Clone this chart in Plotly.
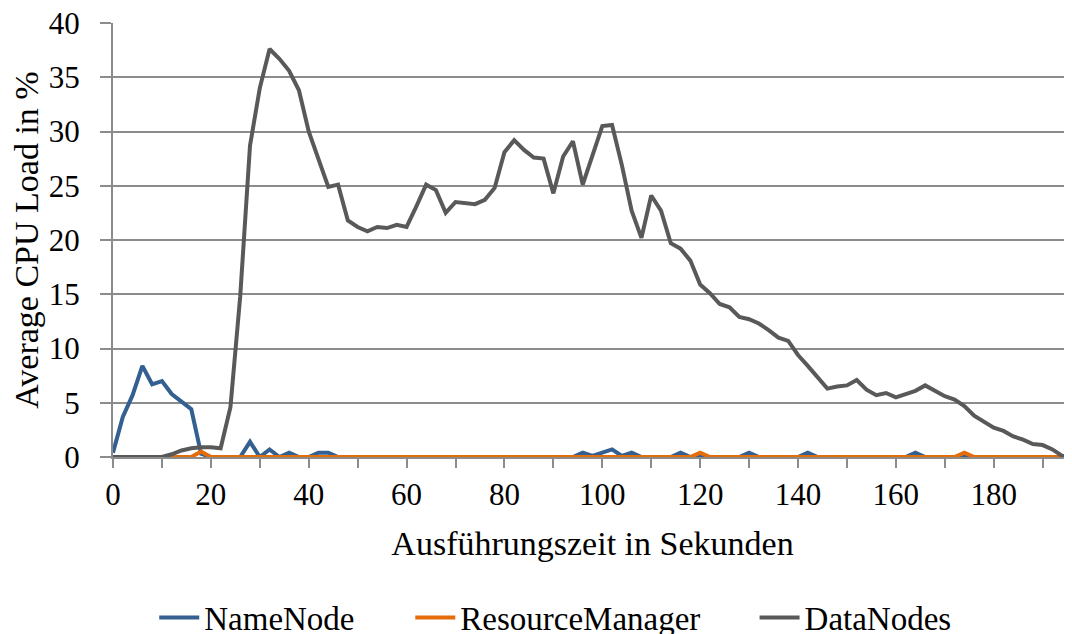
import plotly.graph_objects as go

seconds = list(range(0, 198, 2))

data_nodes = [
    0, 0, 0, 0, 0, 0, 0.25, 0.6, 0.8, 0.9,
    0.9, 0.8, 4.6, 14.8, 28.7, 34.0, 37.6, 36.7, 35.6, 33.8,
    30.0, 27.5, 24.9, 25.1, 21.8, 21.2, 20.8, 21.2, 21.1, 21.4,
    21.2, 23.1, 25.1, 24.6, 22.5, 23.5, 23.4, 23.3, 23.7, 24.8,
    28.1, 29.2, 28.3, 27.6, 27.5, 24.3, 27.7, 29.1, 25.1, 27.7,
    30.5, 30.6, 26.9, 22.7, 20.2, 24.1, 22.7, 19.7, 19.2, 18.1,
    15.9, 15.1, 14.1, 13.8, 12.9, 12.7, 12.3, 11.7, 11.0, 10.7,
    9.4, 8.4, 7.4, 6.3, 6.5, 6.6, 7.1, 6.2, 5.7, 5.9,
    5.5, 5.8, 6.1, 6.6, 6.1, 5.6, 5.3, 4.7, 3.8, 3.2,
    2.7, 2.4, 1.9, 1.6, 1.2, 1.1, 0.7, 0.1, 0.0,
]

name_node = [0.0] * len(seconds)
for sec, val in {0: 0.4, 2: 3.7, 4: 5.7, 6: 8.4, 8: 6.7, 10: 7.0, 12: 5.8, 14: 5.1,
                 16: 4.4, 18: 0.3, 28: 1.4, 32: 0.7, 36: 0.4, 42: 0.4, 44: 0.4,
                 96: 0.4, 98: 0.1, 100: 0.4, 102: 0.7, 104: 0.1, 106: 0.4,
                 116: 0.4, 130: 0.4, 142: 0.4, 164: 0.4}.items():
    name_node[sec // 2] = val

resource_manager = [0.0] * len(seconds)
for sec, val in {18: 0.5, 120: 0.4, 174: 0.4}.items():
    resource_manager[sec // 2] = val

series = [
    ("NameNode", name_node, "#335F91", "legend", 0.043),
    ("ResourceManager", resource_manager, "#E46C0A", "legend2", 0.310),
    ("DataNodes", data_nodes, "#595959", "legend3", 0.669),
]

FONT = "Liberation Serif, DejaVu Serif, serif"
GRID = "#8C8C8C"

fig = go.Figure()
legends = {}
for name, values, color, legend_id, legend_x in series:
    fig.add_trace(go.Scatter(
        x=seconds, y=values, mode="lines", name=name, legend=legend_id,
        line=dict(color=color, width=4), cliponaxis=False,
    ))
    # one legend per series so the spacing can follow the reference
    legends[legend_id] = dict(
        orientation="h", x=legend_x, xanchor="left", y=-0.37, yanchor="middle",
        font=dict(family=FONT, size=33, color="#000000"), itemwidth=40,
        bgcolor="rgba(0,0,0,0)",
    )

# page body has an 8px margin, so the figure is sized 8px short each way
fig.update_layout(
    width=1064, height=626,
    paper_bgcolor="#ffffff", plot_bgcolor="#ffffff",
    margin=dict(l=105, r=0, t=15, b=177, autoexpand=False),
    font=dict(family=FONT, size=30, color="#000000"),
    showlegend=True,
    **legends,
    xaxis=dict(
        range=[0, 196], tickmode="linear", tick0=0, dtick=20,
        showgrid=False, zeroline=False, showline=True, linecolor=GRID, linewidth=2,
        ticks="outside", ticklen=9, tickcolor=GRID, tickwidth=2,
        minor=dict(ticks="outside", dtick=10, ticklen=9, tickcolor=GRID, tickwidth=2),
        tickfont=dict(family=FONT, size=31),
        title=dict(text="Ausführungszeit in Sekunden", standoff=20,
                   font=dict(family=FONT, size=34)),
    ),
    yaxis=dict(
        range=[0, 40], tickmode="linear", tick0=0, dtick=5,
        showgrid=True, gridcolor=GRID, gridwidth=2, zeroline=False,
        showline=True, linecolor=GRID, linewidth=2,
        ticks="outside", ticklen=11, tickcolor=GRID, tickwidth=2,
        tickfont=dict(family=FONT, size=31), ticklabelstandoff=14,
        ticklabeloverflow="allow",
        title=dict(text="Average CPU Load in %", standoff=10,
                   font=dict(family=FONT, size=34)),
    ),
)

fig.write_html("out.html")
